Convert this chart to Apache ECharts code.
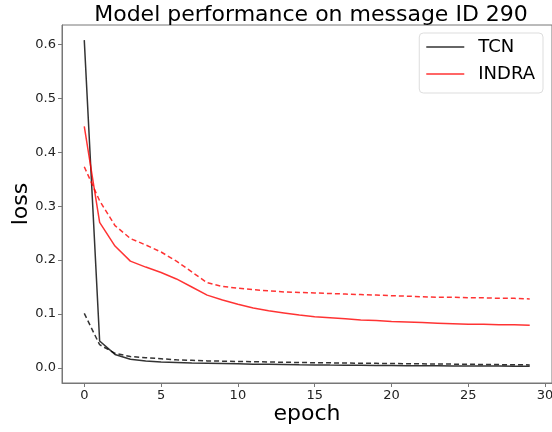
<!DOCTYPE html>
<html>
<head>
<meta charset="utf-8">
<script src="https://cdn.jsdelivr.net/npm/echarts@6/dist/echarts.min.js"></script>
<style>
html,body{margin:0;padding:0;background:#fff;}
#main{width:552px;height:432px;}
</style>
</head>
<body>
<div id="main"></div>
<script>
var epochs = [];
for (var i = 0; i < 30; i++) epochs.push(i);

var tcnTrain = [0.608, 0.050, 0.025, 0.016, 0.013, 0.011, 0.010, 0.009, 0.0085, 0.008,
	0.0075, 0.007, 0.0066, 0.0062, 0.0058, 0.0055, 0.0052, 0.005, 0.0048, 0.0046,
	0.0044, 0.0042, 0.004, 0.0038, 0.0036, 0.0035, 0.0034, 0.0033, 0.0032, 0.003];
var tcnVal = [0.101, 0.043, 0.027, 0.021, 0.019, 0.017, 0.015, 0.014, 0.013, 0.0125,
	0.012, 0.0115, 0.011, 0.0105, 0.010, 0.0097, 0.0094, 0.009, 0.0087, 0.0084,
	0.0081, 0.0078, 0.0075, 0.0072, 0.007, 0.0067, 0.0064, 0.0061, 0.0058, 0.0056];
var indraTrain = [0.448, 0.270, 0.226, 0.198, 0.187, 0.177, 0.165, 0.150, 0.135, 0.126,
	0.118, 0.111, 0.106, 0.102, 0.098, 0.095, 0.093, 0.091, 0.089, 0.088,
	0.086, 0.085, 0.084, 0.083, 0.082, 0.081, 0.081, 0.080, 0.080, 0.079];
var indraVal = [0.373, 0.310, 0.264, 0.240, 0.228, 0.215, 0.198, 0.178, 0.158, 0.151,
	0.148, 0.145, 0.143, 0.141, 0.140, 0.139, 0.138, 0.137, 0.136, 0.135,
	0.134, 0.133, 0.132, 0.131, 0.131, 0.130, 0.130, 0.129, 0.129, 0.128];

var xTicks = [0, 5, 10, 15, 20, 25, 30];
var yTicks = [0, 0.1, 0.2, 0.3, 0.4, 0.5, 0.6];

function pairs(arr){
	return arr.map(function(v, i){ return [epochs[i], v]; });
}

var font = 'DejaVu Sans';
var black = 'rgba(0,0,0,0.8)';
var red = 'rgba(255,0,0,0.8)';

var myChart = echarts.init(document.getElementById('main'));
var option = {
	animation: false,
	title: {
		text: 'Model performance on message ID 290',
		left: 306,
		textAlign: 'center',
		top: -1,
		textStyle: {fontFamily: font, fontSize: 22, fontWeight: 'normal', color: '#000'}
	},
	legend: {
		data: ['TCN', 'INDRA'],
		orient: 'vertical',
		right: 9,
		top: 33,
		icon: 'rect',
		itemWidth: 38,
		itemHeight: 1.5,
		itemGap: 7,
		padding: [4, 8, 9, 7],
		backgroundColor: '#fff',
		borderColor: '#ddd',
		borderWidth: 1,
		borderRadius: 4,
		textStyle: {fontFamily: font, fontSize: 18, lineHeight: 20, color: '#000', padding: [0, 0, 0, 9]}
	},
	grid: {left: 62, top: 25, width: 490, bottom: 49, show: true, borderColor: '#777', borderWidth: 1,
		outerBoundsMode: 'none', containLabel: false},
	xAxis: {
		type: 'value',
		min: -1.45,
		max: 30.45,
		name: 'epoch',
		nameLocation: 'middle',
		nameGap: 20,
		nameMoveOverlap: false,
		nameTextStyle: {fontFamily: font, fontSize: 22, color: '#000'},
		axisLine: {show: true, onZero: false, lineStyle: {color: '#777'}},
		axisTick: {show: true, length: 4, customValues: xTicks, lineStyle: {color: '#777'}},
		axisLabel: {customValues: xTicks, fontFamily: font, fontSize: 13, color: '#222', margin: 6},
		splitLine: {show: false}
	},
	yAxis: {
		type: 'value',
		min: -0.028,
		max: 0.636,
		name: 'loss',
		nameLocation: 'middle',
		nameGap: 30,
		nameMoveOverlap: false,
		nameTextStyle: {fontFamily: font, fontSize: 22, color: '#000'},
		axisLine: {show: true, onZero: false, lineStyle: {color: '#777'}},
		axisTick: {show: true, length: 4, customValues: yTicks, lineStyle: {color: '#777'}},
		axisLabel: {
			customValues: yTicks, fontFamily: font, fontSize: 13, color: '#222', margin: 6,
			formatter: function(v){ return v.toFixed(1); }
		},
		splitLine: {show: false}
	},
	series: [
		{name: 'TCN', type: 'line', data: pairs(tcnTrain), symbol: 'none', color: black,
			lineStyle: {width: 1.5, color: black}},
		{name: 'INDRA', type: 'line', data: pairs(indraTrain), symbol: 'none', color: red,
			lineStyle: {width: 1.5, color: red}},
		{name: 'TCN val', type: 'line', data: pairs(tcnVal), symbol: 'none', color: black,
			lineStyle: {width: 1.5, color: black, type: [5, 3]}},
		{name: 'INDRA val', type: 'line', data: pairs(indraVal), symbol: 'none', color: red,
			lineStyle: {width: 1.5, color: red, type: [5, 3]}}
	]
};
myChart.setOption(option);
</script>
</body>
</html>
